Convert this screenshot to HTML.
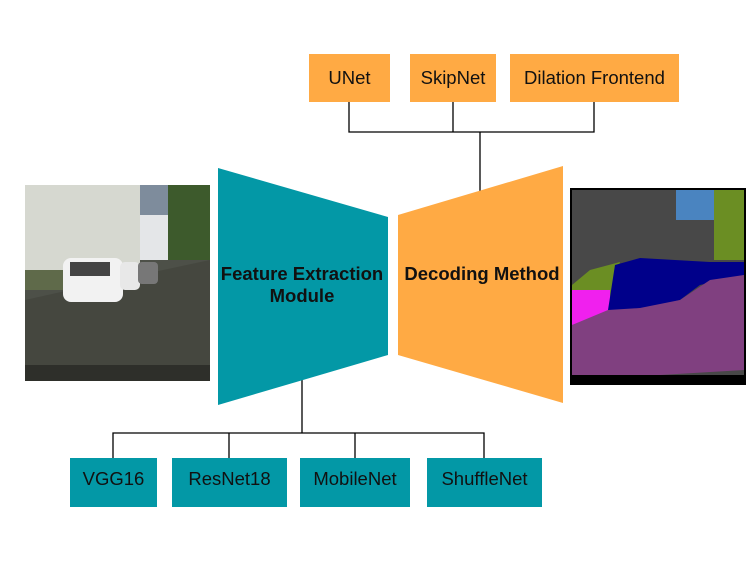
<!DOCTYPE html>
<html><head><meta charset="utf-8"><style>
html,body{margin:0;padding:0;background:#fff}
</style></head><body>
<svg width="754" height="566" xmlns="http://www.w3.org/2000/svg" font-family="Liberation Sans, Arial, sans-serif">
<rect width="754" height="566" fill="#fff"/>
<g stroke="#000" stroke-width="1.3" fill="none">
<path d="M349 102V132H594V102M453 102V132M480 132V195"/>
<path d="M302 380V433M113 458V433H484V458M229 433V458M355 433V458"/>
</g>
<g fill="#ffaa44">
<rect x="309" y="54" width="81" height="48"/>
<rect x="410" y="54" width="86" height="48"/>
<rect x="510" y="54" width="169" height="48"/>
</g>
<g font-size="18.5" fill="#111" text-anchor="middle">
<text x="349.5" y="84">UNet</text>
<text x="453" y="84">SkipNet</text>
<text x="594.5" y="84">Dilation Frontend</text>
</g>
<g fill="#0398a6">
<rect x="70" y="458" width="87" height="49"/>
<rect x="172" y="458" width="115" height="49"/>
<rect x="300" y="458" width="110" height="49"/>
<rect x="427" y="458" width="115" height="49"/>
</g>
<g font-size="18.5" fill="#111" text-anchor="middle">
<text x="113.5" y="485">VGG16</text>
<text x="229.5" y="485">ResNet18</text>
<text x="355" y="485">MobileNet</text>
<text x="484.5" y="485">ShuffleNet</text>
</g>
<polygon points="218,168 388,217 388,355 218,405" fill="#0398a6"/>
<polygon points="398,215 563,166 563,403 398,355" fill="#ffaa44"/>
<text x="302" y="280" font-size="18.5" font-weight="bold" text-anchor="middle" fill="#111">Feature Extraction</text>
<text x="302" y="302" font-size="18.5" font-weight="bold" text-anchor="middle" fill="#111">Module</text>
<text x="482" y="280" font-size="18.5" font-weight="bold" text-anchor="middle" fill="#111">Decoding Method</text>
<g>
<rect x="25" y="185" width="185" height="196" fill="#4d5048"/>
<rect x="25" y="185" width="115" height="90" fill="#d6d8d0"/>
<rect x="140" y="185" width="30" height="35" fill="#7e8c9c"/>
<rect x="140" y="215" width="35" height="45" fill="#e4e6e8"/>
<rect x="168" y="185" width="42" height="75" fill="#3d5a2c"/>
<rect x="25" y="270" width="50" height="20" fill="#5f6a4a"/>
<polygon points="25,300 70,290 210,260 210,381 25,381" fill="#45473f"/>
<rect x="63" y="258" width="60" height="44" rx="8" fill="#f2f2f2"/>
<rect x="70" y="262" width="40" height="14" fill="#444"/>
<rect x="120" y="262" width="20" height="28" rx="5" fill="#e8e8e8"/>
<rect x="138" y="262" width="20" height="22" rx="4" fill="#777"/>
<rect x="25" y="365" width="185" height="16" fill="#2e2f2a"/>
</g>
<g>
<rect x="570" y="188" width="176" height="197" fill="#000"/>
<rect x="572" y="190" width="172" height="185" fill="#484848"/>
<rect x="676" y="190" width="38" height="30" fill="#4a84c0"/>
<rect x="714" y="190" width="30" height="70" fill="#6b8e23"/>
<polygon points="572,285 590,270 620,262 610,300 572,300" fill="#6b8e23"/>
<polygon points="572,290 610,290 610,315 572,325" fill="#f020ee"/>
<polygon points="615,265 640,258 710,262 744,262 744,275 700,285 680,300 640,310 608,310" fill="#00008a"/>
<polygon points="572,325 608,310 640,308 680,300 710,280 744,275 744,370 660,375 572,375" fill="#804080"/>
</g>
</svg>
</body></html>
